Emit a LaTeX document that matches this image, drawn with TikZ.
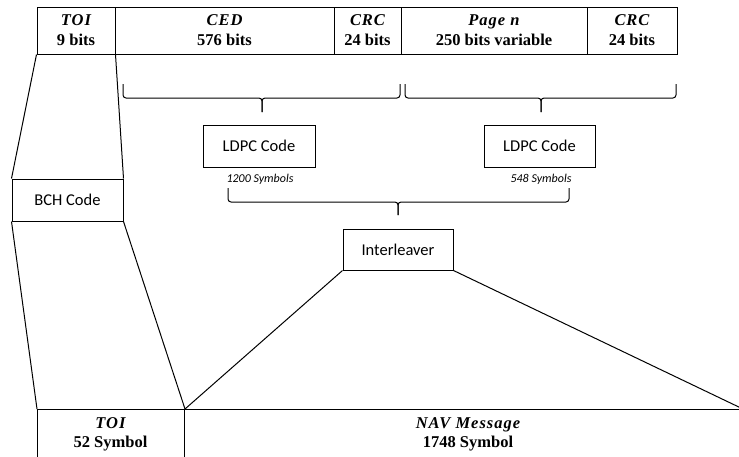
\documentclass[tikz,border=0pt]{standalone}
\usepackage{fontspec}
\setmainfont{Liberation Serif}
\newfontfamily\calfont{Carlito}
\newfontfamily\labfont[LetterSpace=6]{Liberation Serif}
\newcommand{\lab}[1]{{\labfont\bfseries\itshape #1}}
\newcommand{\mybrace}[6]{%
  \draw[rounded corners=3pt] (#1,#4) -- (#1,#5) -- (#2,#5) -- (#2,#6);
  \draw[rounded corners=3pt] (#3,#4) -- (#3,#5) -- (#2,#5) -- (#2,#6);}
\begin{document}
\begin{tikzpicture}[x=1pt,y=-1pt,line width=1pt,
  cell/.style={draw,rectangle,inner sep=0pt,align=center,
    font=\fontsize{16.5}{20}\selectfont\bfseries},
  cbox/.style={draw,rectangle,inner sep=0pt,minimum height=42pt,
    font=\calfont\fontsize{16.5}{19}\selectfont},
  symb/.style={inner sep=0pt,font=\calfont\itshape\fontsize{12}{13}\selectfont},
  btext/.style={inner sep=0pt,align=center,font=\fontsize{16.5}{19}\selectfont\bfseries}]
\clip (0,0) rectangle (739,456);
\fill[white] (0,0) rectangle (739,456);
% top frame
\node[cell,minimum width=78pt,minimum height=47pt] (toi) at (76,30.5) {\lab{TOI}\\9 bits};
\node[cell,minimum width=219pt,minimum height=47pt] (ced) at (224.5,30.5) {\lab{CED}\\576 bits};
\node[cell,minimum width=67pt,minimum height=47pt] (crca) at (367.5,30.5) {\lab{CRC}\\24 bits};
\node[cell,minimum width=186pt,minimum height=47pt] (page) at (494,30.5) {\lab{Page n}\\250 bits variable};
\node[cell,minimum width=90pt,minimum height=47pt] (crcb) at (632,30.5) {\lab{CRC}\\24 bits};
% braces
\mybrace{123}{262}{400}{84}{98}{112}
\mybrace{405}{541}{676}{84}{98}{112}
\mybrace{228}{398}{569}{188}{202}{215}
% code boxes
\node[cbox,minimum width=112pt] (ldpca) at (259,146) {LDPC Code};
\node[cbox,minimum width=111pt] (ldpcb) at (539.5,146) {LDPC Code};
\node[symb] (syma) at (260,179) {1200 Symbols};
\node[symb] (symb) at (541,179) {548 Symbols};
\node[cbox,minimum width=111pt] (bch) at (67.5,200) {BCH Code};
\node[cbox,minimum width=110pt,minimum height=41pt] (il) at (398,249.5) {Interleaver};
% bottom frame
\node[draw,rectangle,inner sep=0pt,minimum width=147pt,minimum height=70pt,anchor=north west] (btoi) at (37,409) {};
\node[draw,rectangle,inner sep=0pt,minimum width=570pt,minimum height=70pt,anchor=north west] (nav) at (184,409) {};
\node[btext] (btoit) at (110.5,434.5) {\lab{TOI}\\52 Symbol};
\node[btext] (navt) at (468,434.5) {\lab{NAV Message}\\1748 Symbol};
% connectors
\draw (toi.south west) -- (bch.north west);
\draw (toi.south east) -- (bch.north east);
\draw (bch.south west) -- (btoi.north west);
\draw (bch.south east) -- (btoi.north east);
\draw (il.south west) -- (btoi.north east);
\coordinate (rend) at (743,409);
\draw (il.south east) -- (rend);
\end{tikzpicture}
\end{document}
